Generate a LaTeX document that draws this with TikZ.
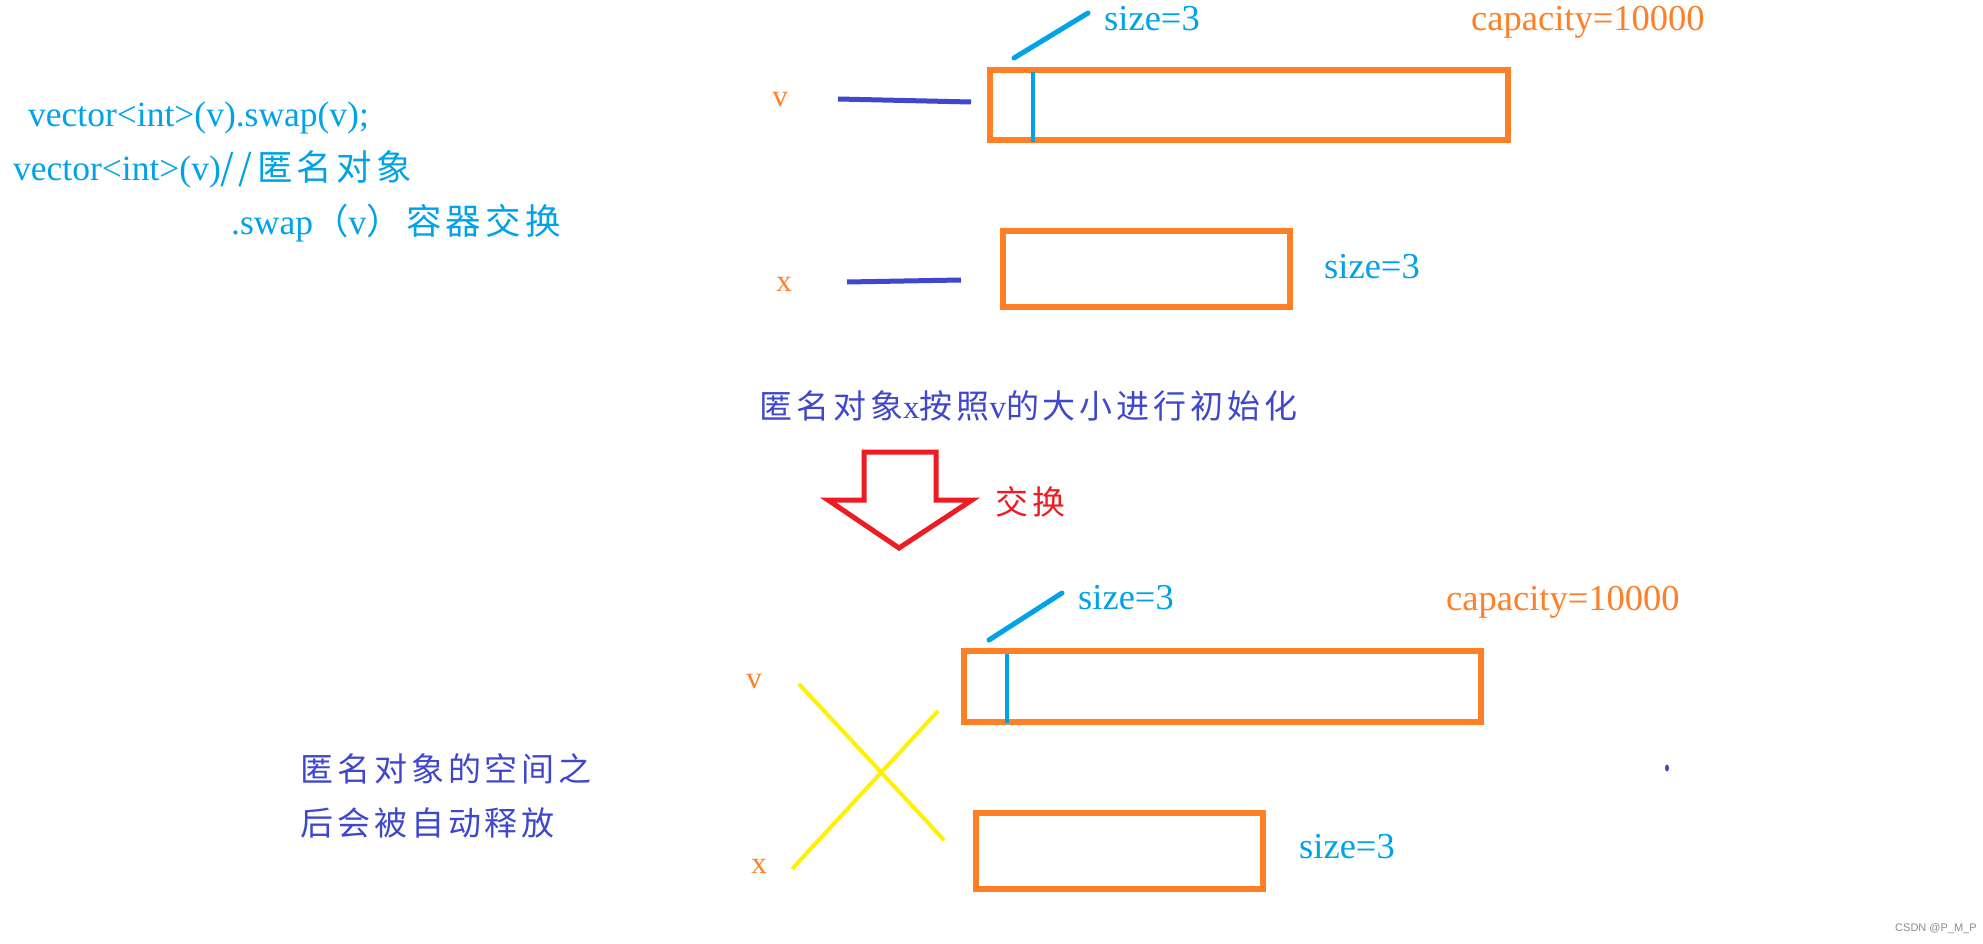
\documentclass[tikz,border=0pt]{standalone}
\usepackage{fontspec}
\setmainfont{Liberation Serif}
\newfontfamily\cjk[LetterSpace=12]{Noto Sans CJK SC}
\newfontfamily\wmfont{Liberation Sans}
\definecolor{cyanb}{HTML}{00A2E8}
\definecolor{orng}{HTML}{FF7F27}
\definecolor{indg}{HTML}{3F48CC}
\definecolor{redp}{HTML}{ED1C24}
\definecolor{yelp}{HTML}{FFF200}
\begin{document}
\begin{tikzpicture}[x=1pt,y=-1pt,
  txt/.style={inner sep=0pt,anchor=west},
  code/.style={txt,text=cyanb,font=\fontsize{35.5}{40}\selectfont},
  lab/.style={inner sep=0pt,text=orng,font=\fontsize{31}{35}\selectfont},
  sztext/.style={txt,text=cyanb,font=\fontsize{36.5}{41}\selectfont},
  captext/.style={txt,text=orng,font=\fontsize{36.5}{41}\selectfont},
  note/.style={txt,text=indg,font=\fontsize{33}{38}\selectfont},
  membox/.style={draw=orng,line width=6pt,inner sep=0pt},
  ptr/.style={draw=indg,line width=5pt},
  sizeline/.style={draw=cyanb,line width=4pt},
  cross/.style={draw=yelp,line width=4pt}]
\useasboundingbox[fill=white] (0,0) rectangle (1983,944);

% left code text
\node[code] (c1) at (28,118) {vector<int>(v).swap(v);};
\node[code] (c2) at (13,169) {vector<int>(v){\cjk //匿名对象}};
\node[code] (c3) at (231,223) {.swap{\cjk （}v{\cjk ）容器交换}};

% top: v
\node[membox,minimum width=518pt,minimum height=70pt] (vbox) at (1249,105) {};
\node[lab] (vlab) at (780,100) {v};
\coordinate (vp1) at (838,99);
\coordinate (vp2) at (971,102);
\draw[ptr] (vp1) -- (vp2);
\coordinate (vs1) at (1033,72);
\coordinate (vs2) at (1033,142);
\draw[sizeline] (vs1) -- (vs2);
\coordinate (vd1) at (1014,58);
\coordinate (vd2) at (1088,13);
\draw[sizeline,line width=5pt,line cap=round] (vd1) -- (vd2);
\node[sztext] (vsize) at (1104,19) {size=3};
\node[captext] (vcap) at (1471,22) {capacity=10000};

% top: x
\node[membox,minimum width=287pt,minimum height=76pt] (xbox) at (1146.5,269) {};
\node[lab] (xlab) at (784,284) {x};
\coordinate (xp1) at (847,282);
\coordinate (xp2) at (961,280);
\draw[ptr] (xp1) -- (xp2);
\node[sztext] (xsize) at (1324,267) {size=3};

% middle
\node[note] (init) at (759,406) {\cjk 匿名对象{\rmfamily x}按照{\rmfamily v}的大小进行初始化};
\draw[draw=redp,line width=5pt,line join=miter]
  (864,452) -- (936,452) -- (936,500) -- (972,500) -- (899,548) -- (828,500) -- (864,500) -- cycle;
\node[txt,text=redp,font=\fontsize{33}{38}\selectfont\cjk] (swp) at (995,502) {交换};

% bottom
\node[membox,minimum width=517pt,minimum height=71pt] (v2box) at (1222.5,686.5) {};
\node[lab] (v2lab) at (754,682) {v};
\coordinate (v2s1) at (1007,654);
\coordinate (v2s2) at (1007,723);
\draw[sizeline] (v2s1) -- (v2s2);
\coordinate (v2d1) at (989,640);
\coordinate (v2d2) at (1062,593);
\draw[sizeline,line width=5pt,line cap=round] (v2d1) -- (v2d2);
\node[sztext] (v2size) at (1078,598) {size=3};
\node[captext] (v2cap) at (1446,602) {capacity=10000};

\node[membox,minimum width=287pt,minimum height=76pt] (x2box) at (1119.5,851) {};
\node[lab] (x2lab) at (759,866) {x};
\node[sztext] (x2size) at (1299,847) {size=3};

\coordinate (y1a) at (799,684);
\coordinate (y1b) at (944,840);
\coordinate (y2a) at (792,869);
\coordinate (y2b) at (938,711);
\draw[cross] (y1a) -- (y1b);
\draw[cross] (y2a) -- (y2b);

\node[note] (free1) at (300,769) {\cjk 匿名对象的空间之};
\node[note] (free2) at (300,823) {\cjk 后会被自动释放};

\fill[indg] (1667,768) ellipse (2pt and 3.5pt);

\node[txt,text=black!45,font=\fontsize{11}{13}\selectfont\wmfont] (wm) at (1895,929) {CSDN @P\_M\_P};
\end{tikzpicture}
\end{document}
